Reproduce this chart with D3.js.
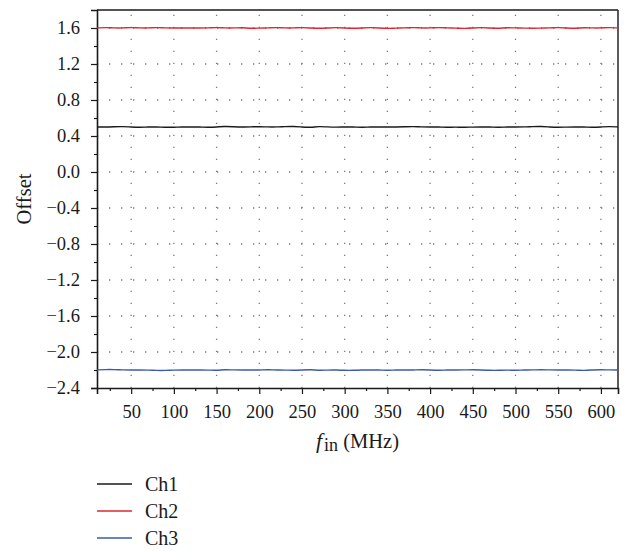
<!DOCTYPE html>
<html>
<head>
<meta charset="utf-8">
<script src="https://cdn.jsdelivr.net/npm/d3@7"></script>
<style>
  html, body { margin: 0; padding: 0; background: #fff; }
  svg { display: block; }
</style>
</head>
<body>
<svg id="chart" width="632" height="551"></svg>
<script>
// Input frequency samples (MHz)
const freq = [10,20,30,40,50,60,70,80,90,100,110,120,130,140,150,160,170,180,190,200,
  210,220,230,240,250,260,270,280,290,300,310,320,330,340,350,360,370,380,390,400,
  410,420,430,440,450,460,470,480,490,500,510,520,530,540,550,560,570,580,590,600,610,620];

// Offset per channel
const ch1 = [0.500,0.500,0.503,0.506,0.500,0.497,0.500,0.500,0.496,0.497,0.500,0.500,0.500,0.497,0.500,0.507,0.503,0.500,0.501,0.505,
  0.500,0.500,0.505,0.507,0.500,0.495,0.507,0.500,0.498,0.500,0.500,0.496,0.500,0.500,0.500,0.500,0.502,0.506,0.500,0.500,
  0.500,0.496,0.500,0.495,0.500,0.500,0.500,0.496,0.500,0.500,0.500,0.505,0.507,0.500,0.495,0.500,0.500,0.500,0.496,0.500,0.507,0.500];
const ch2 = [1.600,1.606,1.600,1.600,1.606,1.601,1.600,1.606,1.600,1.600,1.600,1.600,1.600,1.600,1.606,1.600,1.600,1.606,1.594,1.600,
  1.600,1.606,1.600,1.600,1.606,1.600,1.595,1.600,1.606,1.600,1.595,1.600,1.606,1.600,1.594,1.600,1.600,1.606,1.600,1.600,
  1.606,1.600,1.600,1.594,1.600,1.606,1.600,1.595,1.606,1.600,1.600,1.595,1.600,1.600,1.607,1.600,1.594,1.606,1.600,1.600,1.606,1.600];
const ch3 = [-2.200,-2.195,-2.195,-2.200,-2.200,-2.200,-2.200,-2.205,-2.205,-2.200,-2.200,-2.200,-2.200,-2.200,-2.205,-2.194,-2.200,-2.200,-2.200,-2.200,
  -2.196,-2.200,-2.200,-2.205,-2.200,-2.194,-2.205,-2.200,-2.200,-2.204,-2.204,-2.200,-2.200,-2.200,-2.204,-2.200,-2.200,-2.200,-2.196,-2.200,
  -2.204,-2.200,-2.200,-2.200,-2.195,-2.200,-2.204,-2.204,-2.200,-2.204,-2.200,-2.200,-2.195,-2.200,-2.200,-2.200,-2.200,-2.206,-2.200,-2.195,-2.200,-2.200];

const seriesNames = ["Ch1", "Ch2", "Ch3"];
const seriesColors = ["#1a1a1a", "#e0262e", "#3d5aa8"];

const xMajor = [50,100,150,200,250,300,350,400,450,500,550,600];
const xMinor = [25,75,125,175,225,275,325,375,425,475,525,575];
const yMajor = [-2.4,-2.0,-1.6,-1.2,-0.8,-0.4,0.0,0.4,0.8,1.2,1.6];
const yMinor = [-2.2,-1.8,-1.4,-1.0,-0.6,-0.2,0.2,0.6,1.0,1.4];

const FONT = "'Liberation Serif', 'Times New Roman', serif";
const svg = d3.select("#chart").style("font-family", FONT);
const m = { left: 97, top: 10, right: 618, bottom: 388 };

const x = d3.scaleLinear().domain([10, 620]).range([m.left, m.right]);
const y = d3.scaleLinear().domain([-2.4, 1.8]).range([m.bottom, m.top]);

const fmtY = v => (v < 0 ? "\u2212" : "") + Math.abs(v).toFixed(1);

// dotted grid
const grid = svg.append("g").attr("stroke", "#7a7a7a").attr("stroke-width", 1.3)
  .attr("stroke-dasharray", "1.3,10.7");
grid.selectAll("line.v").data(xMajor).join("line")
  .attr("x1", d => x(d)).attr("x2", d => x(d))
  .attr("y1", m.bottom).attr("y2", m.top);
grid.selectAll("line.h").data(yMajor.filter(v => v > -2.4)).join("line")
  .attr("x1", m.left).attr("x2", m.right)
  .attr("y1", d => y(d)).attr("y2", d => y(d));

// frame top/right
svg.append("line").attr("x1", m.left).attr("x2", m.right).attr("y1", m.top).attr("y2", m.top)
  .attr("stroke", "#1a1a1a").attr("stroke-width", 1.3);
svg.append("line").attr("x1", m.right).attr("x2", m.right).attr("y1", m.top).attr("y2", m.bottom)
  .attr("stroke", "#333").attr("stroke-width", 1.6);

// axes
svg.append("g").attr("transform", `translate(0,${m.bottom})`)
  .call(d3.axisBottom(x).tickValues(xMajor).tickSize(6).tickPadding(11).tickFormat(d3.format("d")));
svg.append("g").attr("transform", `translate(0,${m.bottom})`)
  .call(d3.axisBottom(x).tickValues(xMinor).tickSize(3).tickFormat(""))
  .call(g => g.select(".domain").remove());
svg.append("g").attr("transform", `translate(${m.left},0)`)
  .call(d3.axisLeft(y).tickValues(yMajor).tickSize(6).tickPadding(11).tickFormat(fmtY));
svg.append("g").attr("transform", `translate(${m.left},0)`)
  .call(d3.axisLeft(y).tickValues(yMinor).tickSize(3).tickFormat(""))
  .call(g => g.select(".domain").remove());

svg.selectAll("g").attr("font-family", null);
svg.selectAll(".domain").attr("stroke", "#1a1a1a").attr("stroke-width", 1.6);
svg.selectAll(".tick line").attr("stroke", "#1a1a1a").attr("stroke-width", 1.2);
svg.selectAll(".tick text").style("font-family", FONT)
  .style("font-size", "18.5px").attr("fill", "#1a1a1a");

// series lines
const line = d3.line().x((d, i) => x(freq[i])).y(d => y(d)).curve(d3.curveBasis);
[ch1, ch2, ch3].forEach((vals, k) => {
  svg.append("path").datum(vals)
    .attr("fill", "none").attr("stroke", seriesColors[k]).attr("stroke-width", 1.4)
    .attr("d", line);
});

// axis titles
const xt = svg.append("text").attr("x", (m.left + m.right) / 2).attr("y", 448)
  .attr("text-anchor", "middle").style("font-size", "20.5px").attr("fill", "#1a1a1a");
xt.append("tspan").attr("font-style", "italic").style("font-size", "22px").text("f");
xt.append("tspan").style("font-size", "18px").attr("dx", 2).attr("dy", 3).text("in");
xt.append("tspan").attr("dy", -3).attr("dx", 0).text(" (MHz)");

svg.append("text").attr("transform", `translate(31,${(m.top + m.bottom) / 2}) rotate(-90)`)
  .attr("text-anchor", "middle").style("font-size", "20.5px").attr("fill", "#1a1a1a").text("Offset");

// legend
const lg = svg.append("g");
seriesNames.forEach((name, k) => {
  const yy = 484 + k * 27;
  lg.append("line").attr("x1", 97).attr("x2", 132).attr("y1", yy).attr("y2", yy)
    .attr("stroke", seriesColors[k]).attr("stroke-width", 1.4);
  lg.append("text").attr("x", 145).attr("y", yy + 7).style("font-size", "20px")
    .attr("fill", "#1a1a1a").text(name);
});
</script>
</body>
</html>
